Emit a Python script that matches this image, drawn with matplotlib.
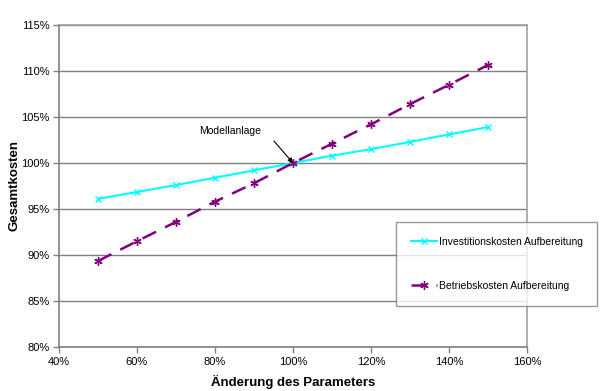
import matplotlib
matplotlib.use("Agg")
import matplotlib.pyplot as plt
from matplotlib.ticker import FuncFormatter

plt.rcParams['font.family'] = ['Liberation Sans', 'DejaVu Sans']

x_change = [50, 60, 70, 80, 90, 100, 110, 120, 130, 140, 150]
invest = [96.1, 96.85, 97.6, 98.4, 99.2, 100.0, 100.8, 101.5, 102.3, 103.1, 103.9]
betrieb = [89.35, 91.5, 93.6, 95.8, 97.8, 100.0, 102.1, 104.2, 106.4, 108.5, 110.65]
series_names = ["Investitionskosten Aufbereitung", "Betriebskosten Aufbereitung"]
x_ticks = [40, 60, 80, 100, 120, 140, 160]
y_ticks = [80, 85, 90, 95, 100, 105, 110, 115]

W, H = 600, 391
fig = plt.figure(figsize=(W / 100, H / 100), dpi=100)
ax = fig.add_axes([59 / W, 1 - 347 / H, (527 - 59) / W, (347 - 25) / H])

ax.plot(x_change, invest, color='#00FFFF', lw=1.5, marker='x', ms=5, mew=1.0,
        label=series_names[0], zorder=3)
ax.plot(x_change, betrieb, color='#800080', lw=1.8, ls=(0, (6, 4)), marker=(6, 2, 0),
        ms=6, mew=1.0, label=series_names[1], zorder=3)

ax.set_xlim(40, 160)
ax.set_ylim(80, 115)
ax.set_xticks(x_ticks)
ax.set_yticks(y_ticks)
pct = FuncFormatter(lambda v, p: f"{v:.0f}%")
ax.xaxis.set_major_formatter(pct)
ax.yaxis.set_major_formatter(pct)
ax.tick_params(labelsize=8, length=4, width=1, color='#808080', direction='out', pad=3)
ax.yaxis.grid(True, color='#808080', lw=1)
ax.set_axisbelow(True)
for s in ['left', 'bottom']:
    ax.spines[s].set_color('#808080')
    ax.spines[s].set_linewidth(1.2)
for s in ['top', 'right']:
    ax.spines[s].set_color('#A0A0A0')
    ax.spines[s].set_linewidth(1.2)

ax.set_xlabel("Änderung des Parameters", fontsize=9.5, fontweight='bold', labelpad=6)
ax.set_ylabel("Gesamtkosten", fontsize=9.5, fontweight='bold', labelpad=0)

ax.text(83.8, 103.5, "Modellanlage", fontsize=7.5, ha='center', va='center')
ax.annotate("", xy=(100, 100), xytext=(95.1, 102.4),
            arrowprops=dict(arrowstyle='-|>', color='black', lw=0.8,
                            mutation_scale=7, shrinkA=0, shrinkB=0))

leg = fig.legend(loc='upper left', bbox_to_anchor=(396 / W, 1 - 222 / H),
                 fontsize=7.5, frameon=True, fancybox=False, edgecolor='#808080',
                 labelspacing=3.3, handlelength=2.5, handletextpad=0.2,
                 borderpad=1.4, borderaxespad=0)
leg.get_frame().set_linewidth(1.0)

fig.savefig("out.png", dpi=100)
